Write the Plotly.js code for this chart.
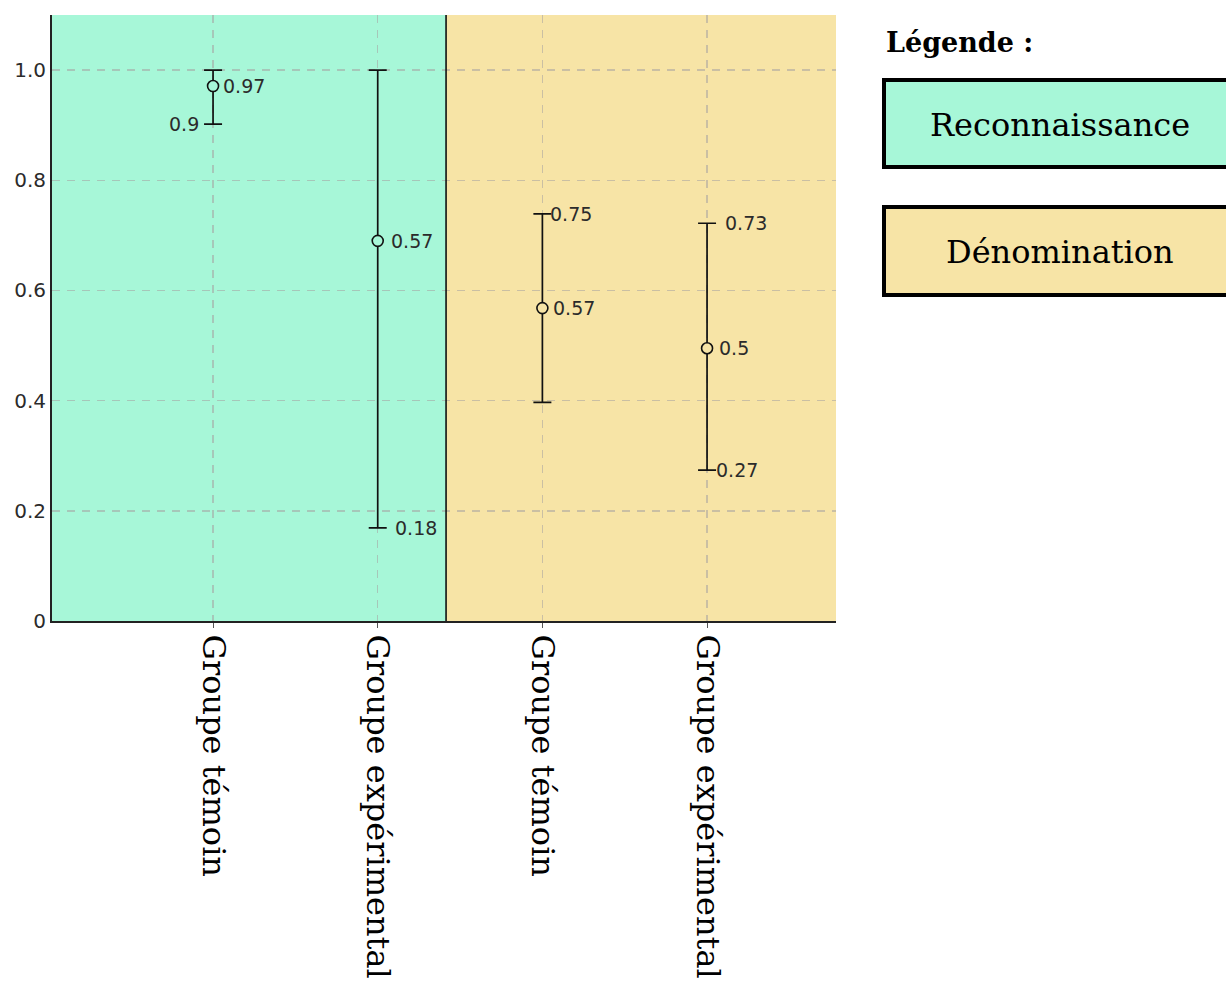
<!DOCTYPE html>
<html>
<head>
<meta charset="utf-8">
<script src="https://cdn.plot.ly/plotly-3.0.1.min.js"></script>
<style>html,body{margin:0;padding:0;background:#fff;}#chart{width:1226px;height:985px;}</style>
</head>
<body>
<div id="chart"></div>
<script>
// ---- data ----
const categories = ["Groupe témoin", "Groupe expérimental", "Groupe témoin", "Groupe expérimental"];
const conditions = ["Reconnaissance", "Reconnaissance", "Dénomination", "Dénomination"];
const means = [0.971, 0.69, 0.568, 0.495];
const upper = [1.0, 1.0, 0.739, 0.722];
const lower = [0.902, 0.169, 0.397, 0.274];
const meanLabels = ["0.97", "0.57", "0.57", "0.5"];
const upperLabels = ["", "", "0.75", "0.73"];
const lowerLabels = ["0.9", "0.18", "", "0.27"];
const legendItems = ["Reconnaissance", "Dénomination"];
const legendTitle = "Légende :";
const yTicks = [0, 0.2, 0.4, 0.6, 0.8, 1.0];
const yTickText = ["0", "0.2", "0.4", "0.6", "0.8", "1.0"];

// ---- styles ----
const condColor = {"Reconnaissance": "#a7f7d8", "Dénomination": "#f7e4a6"};
const xs = categories.map((c, i) => i);
const divider = 1.415;
const xRange = [-0.978, 3.783];
const labelFont = {family: "DejaVu Sans, sans-serif", size: 19, color: "#2b2b2b"};
const meanShift = [8, 11, 9, 10];
const upperShift = [0, 0, 6, 16];
const lowerShift = [-12, 15, 0, 7];

const trace = {
  type: "scatter", mode: "markers", x: xs, y: means,
  marker: {symbol: "circle", size: 11, color: conditions.map(c => condColor[c]), line: {color: "#111", width: 1.6}},
  error_y: {type: "data", symmetric: false,
    array: upper.map((u, i) => u - means[i]),
    arrayminus: lower.map((l, i) => means[i] - l),
    color: "#111", thickness: 1.7, width: 9},
  hoverinfo: "skip", showlegend: false, cliponaxis: false
};

const annotations = [];
xs.forEach((x, i) => {
  annotations.push({x: x, y: means[i], xref: "x", yref: "y", text: meanLabels[i], showarrow: false,
    xanchor: "left", yanchor: "middle", xshift: meanShift[i], font: labelFont});
  if (upperLabels[i]) annotations.push({x: x, y: upper[i], xref: "x", yref: "y", text: upperLabels[i], showarrow: false,
    xanchor: "left", yanchor: "middle", xshift: upperShift[i], font: labelFont});
  if (lowerLabels[i]) annotations.push({x: x, y: lower[i], xref: "x", yref: "y", text: lowerLabels[i], showarrow: false,
    xanchor: lowerShift[i] < 0 ? "right" : "left", yanchor: "middle", xshift: lowerShift[i], font: labelFont});
});

// legend
const W = 784, H = 606, L = 52, T = 15;
const px = v => (v - L) / W;
const py = v => (T + H - v) / H;
annotations.push({xref: "paper", yref: "paper", x: px(884), y: py(42), xanchor: "left", yanchor: "middle",
  text: "<b>" + legendTitle + "</b>", showarrow: false,
  font: {family: "DejaVu Serif, Liberation Serif, serif", size: 27, color: "#000"}});
const boxes = [[80, 167], [207, 295]];
const shapes = [
  {type: "rect", xref: "x", yref: "paper", x0: xRange[0], x1: divider, y0: 0, y1: 1, fillcolor: condColor["Reconnaissance"], line: {width: 0}, layer: "below"},
  {type: "rect", xref: "x", yref: "paper", x0: divider, x1: xRange[1], y0: 0, y1: 1, fillcolor: condColor["Dénomination"], line: {width: 0}, layer: "below"},
  {type: "line", xref: "x", yref: "paper", x0: divider, x1: divider, y0: 0, y1: 1, line: {color: "#111", width: 1.6}, layer: "above"}
];
legendItems.forEach((name, i) => {
  const [t, b] = boxes[i];
  shapes.push({type: "rect", xref: "paper", yref: "paper", x0: px(884), x1: px(1260), y0: py(b), y1: py(t),
    fillcolor: condColor[name], line: {color: "#000", width: 4}});
  annotations.push({xref: "paper", yref: "paper", x: px(1060), y: py((t + b) / 2 + 1), xanchor: "center", yanchor: "middle",
    text: name, showarrow: false, font: {family: "DejaVu Serif, Liberation Serif, serif", size: 32, color: "#000"}});
});

const gridColor = "rgba(165,160,160,0.55)";
const layout = {
  width: 1226, height: 985,
  margin: {l: L, r: 1226 - L - W, t: T, b: 985 - T - H, pad: 0},
  paper_bgcolor: "#fff", plot_bgcolor: "rgba(0,0,0,0)",
  showlegend: false,
  xaxis: {range: xRange, tickvals: xs, ticktext: categories, tickangle: 90,
    tickfont: {family: "DejaVu Serif, Liberation Serif, serif", size: 32, color: "#000"},
    showgrid: true, gridcolor: gridColor, griddash: "8px,7px", gridwidth: 1.5,
    showline: true, linecolor: "#222", linewidth: 2, ticks: "outside", ticklen: 5, tickcolor: "#555",
    zeroline: false, fixedrange: true},
  yaxis: {range: [0, 1.1], tickvals: yTicks, ticktext: yTickText,
    tickfont: {family: "DejaVu Sans, sans-serif", size: 20, color: "#2b2b2b"},
    showgrid: true, gridcolor: gridColor, griddash: "8px,7px", gridwidth: 1.5,
    showline: true, linecolor: "#222", linewidth: 2, ticks: "", ticklen: 0,
    zeroline: false, fixedrange: true},
  shapes: shapes,
  annotations: annotations
};

Plotly.newPlot("chart", [trace], layout, {displayModeBar: false, staticPlot: true});
</script>
</body>
</html>
